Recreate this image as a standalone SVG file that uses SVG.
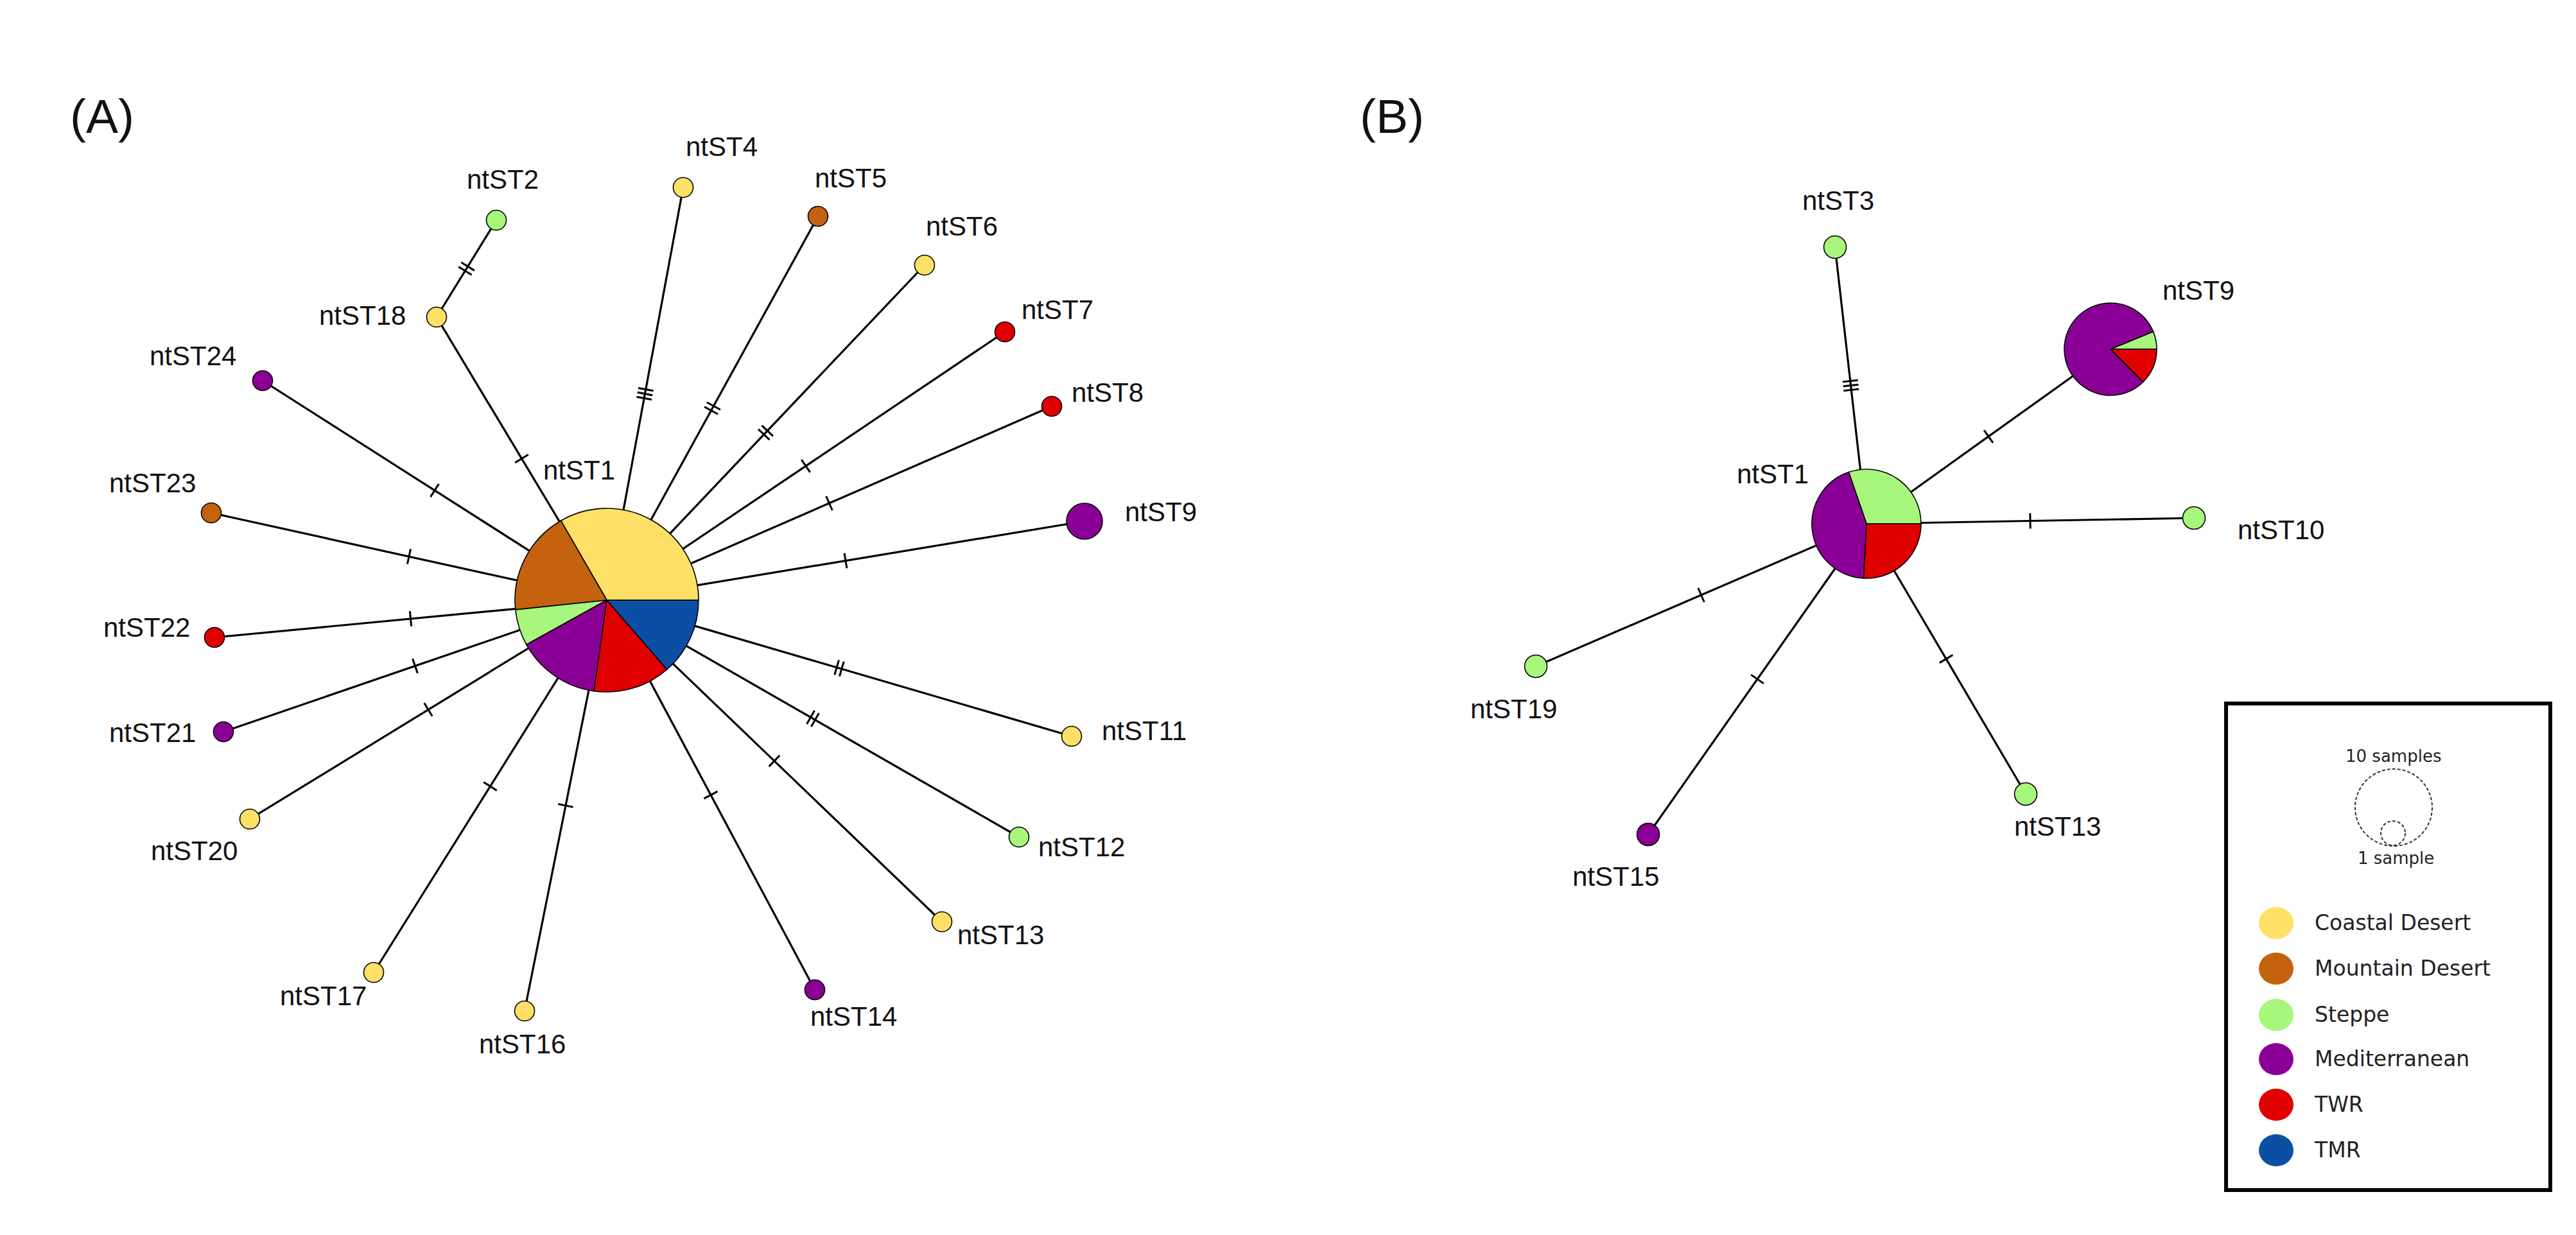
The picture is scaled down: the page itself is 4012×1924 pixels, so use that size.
<svg xmlns="http://www.w3.org/2000/svg" xmlns:xlink="http://www.w3.org/1999/xlink" width="4012" height="1924" viewBox="0 0 4012 1924">
<style>
.bg{fill:#ffffff}
.edge{stroke:#000;stroke-width:3.2;fill:none}
.tick{stroke:#000;stroke-width:3;fill:none}
.nd{stroke:#000;stroke-width:1.6}
.sl{stroke:#000;stroke-width:1.6;stroke-linejoin:round}
.cd{fill:#FFE066}
.md{fill:#C46210}
.st{fill:#A6F77B}
.me{fill:#8A0096}
.tw{fill:#E00000}
.tm{fill:#0A4FA3}
.lbl{font-family:"Liberation Sans",Arial,sans-serif;font-size:42px;fill:#111}
.pan{font-family:"Liberation Sans",Arial,sans-serif;font-size:75px;fill:#111}
.leg{font-family:"DejaVu Sans",Verdana,sans-serif;font-size:33px;fill:#222}
.legs{font-family:"DejaVu Sans",Verdana,sans-serif;font-size:26px;fill:#222}
.dash{fill:none;stroke:#333;stroke-width:2;stroke-dasharray:5 3}
</style>
<defs>
<path id="t1" d="M0,-12V12"/>
<path id="t2" d="M-4,-12V12M4,-12V12"/>
<path id="t3" d="M-7,-12V12M0,-12V12M7,-12V12"/>
</defs>
<rect class="bg" x="0" y="0" width="4012" height="1924"/>

<text class="pan" x="109" y="207">(A)</text>
<text class="pan" x="2118" y="207">(B)</text>

<g id="connectors">
<g class="edge">
<line x1="680" y1="494" x2="773" y2="343"/>
<line x1="945" y1="935" x2="680" y2="494"/>
<line x1="945" y1="935" x2="409" y2="593"/>
<line x1="945" y1="935" x2="329" y2="799"/>
<line x1="945" y1="935" x2="334" y2="993"/>
<line x1="945" y1="935" x2="348" y2="1140"/>
<line x1="945" y1="935" x2="389" y2="1276"/>
<line x1="945" y1="935" x2="582" y2="1515"/>
<line x1="945" y1="935" x2="817" y2="1575"/>
<line x1="945" y1="935" x2="1269" y2="1542"/>
<line x1="945" y1="935" x2="1467" y2="1436"/>
<line x1="945" y1="935" x2="1587" y2="1304"/>
<line x1="945" y1="935" x2="1669" y2="1147"/>
<line x1="945" y1="935" x2="1689" y2="812"/>
<line x1="945" y1="935" x2="1638" y2="633"/>
<line x1="945" y1="935" x2="1565" y2="517"/>
<line x1="945" y1="935" x2="1440" y2="413"/>
<line x1="945" y1="935" x2="1274" y2="337"/>
<line x1="945" y1="935" x2="1064" y2="292"/>
<line x1="2907" y1="816" x2="2858" y2="385"/>
<line x1="2907" y1="816" x2="3287" y2="544"/>
<line x1="2907" y1="816" x2="3417" y2="807"/>
<line x1="2907" y1="816" x2="2392" y2="1038"/>
<line x1="2907" y1="816" x2="2567" y2="1300"/>
<line x1="2907" y1="816" x2="3155" y2="1237"/>
</g>
<g class="tick">
<use xlink:href="#t2" href="#t2" transform="translate(726.5,418.5) rotate(-58.4)"/>
<use xlink:href="#t1" href="#t1" transform="translate(812.5,714.5) rotate(-121)"/>
<use xlink:href="#t1" href="#t1" transform="translate(677,764) rotate(-147.5)"/>
<use xlink:href="#t1" href="#t1" transform="translate(637,867) rotate(-167.6)"/>
<use xlink:href="#t1" href="#t1" transform="translate(639.5,964) rotate(174.6)"/>
<use xlink:href="#t1" href="#t1" transform="translate(646.5,1037.5) rotate(161)"/>
<use xlink:href="#t1" href="#t1" transform="translate(667,1105.5) rotate(148.5)"/>
<use xlink:href="#t1" href="#t1" transform="translate(763.5,1225) rotate(122)"/>
<use xlink:href="#t1" href="#t1" transform="translate(881,1255) rotate(101.3)"/>
<use xlink:href="#t1" href="#t1" transform="translate(1107,1238.5) rotate(61.9)"/>
<use xlink:href="#t1" href="#t1" transform="translate(1206,1185.5) rotate(43.8)"/>
<use xlink:href="#t2" href="#t2" transform="translate(1266,1119.5) rotate(29.9)"/>
<use xlink:href="#t2" href="#t2" transform="translate(1307,1041) rotate(16.3)"/>
<use xlink:href="#t1" href="#t1" transform="translate(1317,873.5) rotate(-9.4)"/>
<use xlink:href="#t1" href="#t1" transform="translate(1291.5,784) rotate(-23.5)"/>
<use xlink:href="#t1" href="#t1" transform="translate(1255,726) rotate(-34)"/>
<use xlink:href="#t2" href="#t2" transform="translate(1192.5,674) rotate(-46.5)"/>
<use xlink:href="#t2" href="#t2" transform="translate(1109.5,636) rotate(-61.2)"/>
<use xlink:href="#t3" href="#t3" transform="translate(1004.5,613.5) rotate(-79.5)"/>
<use xlink:href="#t3" href="#t3" transform="translate(2882.5,600.5) rotate(-96.4)"/>
<use xlink:href="#t1" href="#t1" transform="translate(3097,680) rotate(-35.5)"/>
<use xlink:href="#t1" href="#t1" transform="translate(3162,811.5) rotate(-1)"/>
<use xlink:href="#t1" href="#t1" transform="translate(2649.5,927) rotate(156.6)"/>
<use xlink:href="#t1" href="#t1" transform="translate(2737,1058) rotate(125)"/>
<use xlink:href="#t1" href="#t1" transform="translate(3031,1026.5) rotate(59.4)"/>
</g>
</g>

<!-- Panel A nodes -->
<g id="A-ntST1">
<path class="sl cd" d="M945,935 L1088,935 A143,143 0 0 0 873.5,811.2 Z"/>
<path class="sl md" d="M945,935 L873.5,811.2 A143,143 0 0 0 802.8,949.9 Z"/>
<path class="sl st" d="M945,935 L802.8,949.9 A143,143 0 0 0 819.9,1004.3 Z"/>
<path class="sl me" d="M945,935 L819.9,1004.3 A143,143 0 0 0 925.1,1076.6 Z"/>
<path class="sl tw" d="M945,935 L925.1,1076.6 A143,143 0 0 0 1038.8,1042.9 Z"/>
<path class="sl tm" d="M945,935 L1038.8,1042.9 A143,143 0 0 0 1088,935 Z"/>
<text class="lbl" x="846" y="747">ntST1</text>
</g>
<g id="A-ntST2"><circle class="nd st" cx="773" cy="343" r="15.5"/><text class="lbl" x="727" y="294">ntST2</text></g>
<g id="A-ntST18"><circle class="nd cd" cx="680" cy="494" r="15.5"/><text class="lbl" x="497" y="506">ntST18</text></g>
<g id="A-ntST24"><circle class="nd me" cx="409" cy="593" r="15.5"/><text class="lbl" x="233" y="569">ntST24</text></g>
<g id="A-ntST23"><circle class="nd md" cx="329" cy="799" r="15.5"/><text class="lbl" x="170" y="767">ntST23</text></g>
<g id="A-ntST22"><circle class="nd tw" cx="334" cy="993" r="15.5"/><text class="lbl" x="161" y="992">ntST22</text></g>
<g id="A-ntST21"><circle class="nd me" cx="348" cy="1140" r="15.5"/><text class="lbl" x="170" y="1156">ntST21</text></g>
<g id="A-ntST20"><circle class="nd cd" cx="389" cy="1276" r="15.5"/><text class="lbl" x="235" y="1340">ntST20</text></g>
<g id="A-ntST17"><circle class="nd cd" cx="582" cy="1515" r="15.5"/><text class="lbl" x="436" y="1566">ntST17</text></g>
<g id="A-ntST16"><circle class="nd cd" cx="817" cy="1575" r="15.5"/><text class="lbl" x="746" y="1641">ntST16</text></g>
<g id="A-ntST14"><circle class="nd me" cx="1269" cy="1542" r="15.5"/><text class="lbl" x="1262" y="1598">ntST14</text></g>
<g id="A-ntST13"><circle class="nd cd" cx="1467" cy="1436" r="15.5"/><text class="lbl" x="1491" y="1471">ntST13</text></g>
<g id="A-ntST12"><circle class="nd st" cx="1587" cy="1304" r="15.5"/><text class="lbl" x="1617" y="1334">ntST12</text></g>
<g id="A-ntST11"><circle class="nd cd" cx="1669" cy="1147" r="15.5"/><text class="lbl" x="1716" y="1153">ntST11</text></g>
<g id="A-ntST9"><circle class="nd me" cx="1689" cy="812" r="28"/><text class="lbl" x="1752" y="812">ntST9</text></g>
<g id="A-ntST8"><circle class="nd tw" cx="1638" cy="633" r="15.5"/><text class="lbl" x="1669" y="626">ntST8</text></g>
<g id="A-ntST7"><circle class="nd tw" cx="1565" cy="517" r="15.5"/><text class="lbl" x="1591" y="497">ntST7</text></g>
<g id="A-ntST6"><circle class="nd cd" cx="1440" cy="413" r="15.5"/><text class="lbl" x="1442" y="367">ntST6</text></g>
<g id="A-ntST5"><circle class="nd md" cx="1274" cy="337" r="15.5"/><text class="lbl" x="1269" y="292">ntST5</text></g>
<g id="A-ntST4"><circle class="nd cd" cx="1064" cy="292" r="15.5"/><text class="lbl" x="1068" y="243">ntST4</text></g>

<!-- Panel B nodes -->
<g id="B-ntST1">
<path class="sl st" d="M2907,816 L2992,816 A85,85 0 0 0 2879.3,735.6 Z"/>
<path class="sl me" d="M2907,816 L2879.3,735.6 A85,85 0 0 0 2902.6,900.9 Z"/>
<path class="sl tw" d="M2907,816 L2902.6,900.9 A85,85 0 0 0 2992,816 Z"/>
<text class="lbl" x="2705" y="753">ntST1</text>
</g>
<g id="B-ntST9">
<path class="sl st" d="M3287,544 L3359,544 A72,72 0 0 0 3353.5,516.4 Z"/>
<path class="sl me" d="M3287,544 L3353.5,516.4 A72,72 0 1 0 3337.9,594.9 Z"/>
<path class="sl tw" d="M3287,544 L3337.9,594.9 A72,72 0 0 0 3359,544 Z"/>
<text class="lbl" x="3368" y="467">ntST9</text>
</g>
<g id="B-ntST3"><circle class="nd st" cx="2858" cy="385" r="17.5"/><text class="lbl" x="2807" y="327">ntST3</text></g>
<g id="B-ntST10"><circle class="nd st" cx="3417" cy="807" r="17.5"/><text class="lbl" x="3485" y="840">ntST10</text></g>
<g id="B-ntST19"><circle class="nd st" cx="2392" cy="1038" r="17.5"/><text class="lbl" x="2290" y="1119">ntST19</text></g>
<g id="B-ntST15"><circle class="nd me" cx="2567" cy="1300" r="17.5"/><text class="lbl" x="2449" y="1380">ntST15</text></g>
<g id="B-ntST13"><circle class="nd st" cx="3155" cy="1237" r="17.5"/><text class="lbl" x="3137" y="1302">ntST13</text></g>

<!-- Legend -->
<g id="legend">
<rect x="3467" y="1096" width="505" height="758" fill="none" stroke="#000" stroke-width="6"/>
<text class="legs" x="3653" y="1187">10 samples</text>
<circle class="dash" cx="3728" cy="1258" r="60"/>
<circle class="dash" cx="3727" cy="1298" r="19"/>
<text class="legs" x="3672" y="1346">1 sample</text>
<ellipse class="cd" cx="3545" cy="1438" rx="27" ry="25"/>
<text class="leg" x="3605" y="1449">Coastal Desert</text>
<ellipse class="md" cx="3545" cy="1509" rx="27" ry="25"/>
<text class="leg" x="3605" y="1520">Mountain Desert</text>
<ellipse class="st" cx="3545" cy="1581" rx="27" ry="25"/>
<text class="leg" x="3605" y="1592">Steppe</text>
<ellipse class="me" cx="3545" cy="1650" rx="27" ry="25"/>
<text class="leg" x="3605" y="1661">Mediterranean</text>
<ellipse class="tw" cx="3545" cy="1721" rx="27" ry="25"/>
<text class="leg" x="3605" y="1732">TWR</text>
<ellipse class="tm" cx="3545" cy="1792" rx="27" ry="25"/>
<text class="leg" x="3605" y="1803">TMR</text>
</g>
</svg>
